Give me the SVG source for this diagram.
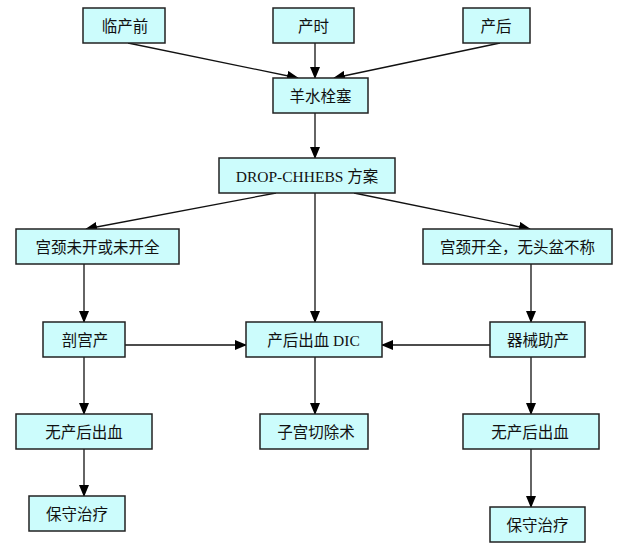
<svg xmlns="http://www.w3.org/2000/svg" width="620" height="548" viewBox="0 0 620 548">
<style>
.box rect{fill:#ccfcfc;stroke:#222;stroke-width:1.5}
.box text{font-family:"Liberation Serif","Noto Sans CJK SC",serif;font-size:15.5px;fill:#111;text-anchor:middle;dominant-baseline:central}
.edges line{stroke:#111;stroke-width:1.3}
</style>
<defs>
<marker id="ah" markerWidth="12" markerHeight="10" refX="11" refY="5" orient="auto" markerUnits="userSpaceOnUse">
<path d="M0,0 L12,5 L0,10 Z" fill="#000"/>
</marker>
</defs>
<rect width="620" height="548" fill="#fff"/>
<g class="edges" marker-end="url(#ah)">
<line x1="128" y1="43" x2="298" y2="78" marker-end="url(#ah)"/>
<line x1="315" y1="43" x2="315" y2="78" marker-end="url(#ah)"/>
<line x1="500" y1="43" x2="334" y2="78" marker-end="url(#ah)"/>
<line x1="315" y1="113" x2="315" y2="158" marker-end="url(#ah)"/>
<line x1="276" y1="193" x2="86" y2="229" marker-end="url(#ah)"/>
<line x1="354" y1="193" x2="530" y2="229" marker-end="url(#ah)"/>
<line x1="315" y1="193" x2="315" y2="322" marker-end="url(#ah)"/>
<line x1="84" y1="264" x2="84" y2="322" marker-end="url(#ah)"/>
<line x1="531" y1="264" x2="531" y2="322" marker-end="url(#ah)"/>
<line x1="125" y1="345" x2="246" y2="345" marker-end="url(#ah)"/>
<line x1="490" y1="345" x2="382" y2="345" marker-end="url(#ah)"/>
<line x1="84" y1="357" x2="84" y2="414" marker-end="url(#ah)"/>
<line x1="315" y1="357" x2="315" y2="414" marker-end="url(#ah)"/>
<line x1="531" y1="357" x2="531" y2="414" marker-end="url(#ah)"/>
<line x1="84" y1="449" x2="84" y2="496" marker-end="url(#ah)"/>
<line x1="531" y1="449" x2="531" y2="507" marker-end="url(#ah)"/>
</g>
<g id="n1" class="box"><rect x="83" y="8" width="82" height="35"/><text x="125" y="26">临产前</text></g>
<g id="n2" class="box"><rect x="273" y="8" width="81" height="35"/><text x="313.5" y="26">产时</text></g>
<g id="n3" class="box"><rect x="463" y="8" width="67" height="35"/><text x="496" y="26">产后</text></g>
<g id="n4" class="box"><rect x="273" y="78" width="95" height="35"/><text x="320.5" y="96">羊水栓塞</text></g>
<g id="n5" class="box"><rect x="219" y="158" width="176" height="35"/><text x="307" y="176">DROP-CHHEBS 方案</text></g>
<g id="n6" class="box"><rect x="16" y="229" width="163" height="35"/><text x="97.5" y="247">宫颈未开或未开全</text></g>
<g id="n7" class="box"><rect x="423" y="229" width="189" height="35"/><text x="517.5" y="247">宫颈开全，无头盆不称</text></g>
<g id="n8" class="box"><rect x="43" y="322" width="82" height="35"/><text x="85" y="340">剖宫产</text></g>
<g id="n9" class="box"><rect x="246" y="322" width="136" height="35"/><text x="313.5" y="340">产后出血 DIC</text></g>
<g id="n10" class="box"><rect x="490" y="322" width="95" height="35"/><text x="538" y="340">器械助产</text></g>
<g id="n11" class="box"><rect x="16" y="414" width="136" height="35"/><text x="84" y="432">无产后出血</text></g>
<g id="n12" class="box"><rect x="260" y="414" width="108" height="35"/><text x="316" y="432">子宫切除术</text></g>
<g id="n13" class="box"><rect x="463" y="414" width="136" height="35"/><text x="530" y="432">无产后出血</text></g>
<g id="n14" class="box"><rect x="29" y="496" width="96" height="35"/><text x="77" y="514">保守治疗</text></g>
<g id="n15" class="box"><rect x="490" y="507" width="95" height="35"/><text x="537.5" y="525">保守治疗</text></g>
</svg>
